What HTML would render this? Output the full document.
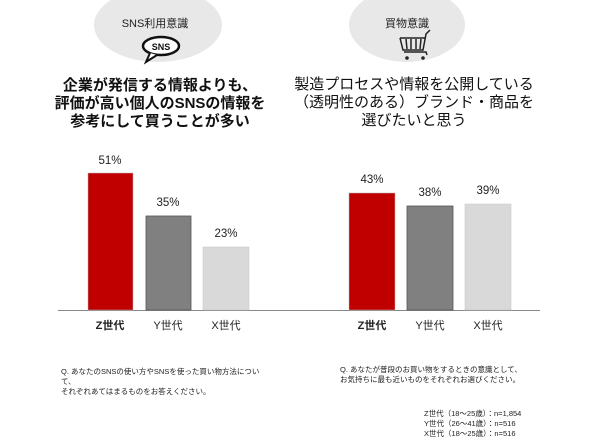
<!DOCTYPE html>
<html><head><meta charset="utf-8"><style>
body{margin:0;background:#fff;}
svg text{font-family:"Liberation Sans","Noto Sans CJK JP",sans-serif;}
</style></head><body>
<svg width="600" height="440" viewBox="0 0 600 440" xmlns="http://www.w3.org/2000/svg">
<ellipse cx="158" cy="25" rx="64" ry="37" fill="#e8e8e8"/>
<ellipse cx="407" cy="25" rx="58" ry="37" fill="#e8e8e8"/>
<text x="155" y="27" font-size="11" text-anchor="middle" fill="#222">SNS利用意識</text>
<text x="407" y="27" font-size="11" text-anchor="middle" fill="#222">買物意識</text>
<ellipse cx="161" cy="46" rx="18" ry="9" fill="#fff" stroke="#111" stroke-width="2.5"/>
<path d="M150,53 L146,62 L157,55" fill="#fff" stroke="#111" stroke-width="2"/>
<text x="161" y="50" font-size="9" font-weight="bold" text-anchor="middle" fill="#111">SNS</text>
<g stroke="#222" stroke-width="1.5" fill="none">
<path d="M400,38 L403,50 L423,50 L426,34 L430,30"/>
<path d="M404,52 L426,52 L427,55"/>
<line x1="406" y1="39" x2="407" y2="49"/><line x1="411" y1="39" x2="411" y2="49"/><line x1="416" y1="39" x2="416" y2="49"/><line x1="421" y1="39" x2="420" y2="49"/>
<line x1="400" y1="38" x2="426" y2="38"/>
</g>
<circle cx="407" cy="58" r="1.8" fill="#222"/><circle cx="423" cy="58" r="1.8" fill="#222"/>
<g font-size="15" font-weight="bold" text-anchor="middle" fill="#111">
<text x="160" y="90">企業が発信する情報よりも、</text>
<text x="160" y="108">評価が高い個人のSNSの情報を</text>
<text x="160" y="126">参考にして買うことが多い</text>
</g>
<g font-size="15" text-anchor="middle" fill="#111">
<text x="414" y="89">製造プロセスや情報を公開している</text>
<text x="414" y="107">（透明性のある）ブランド・商品を</text>
<text x="414" y="125">選びたいと思う</text>
</g>
<line x1="58" y1="310.5" x2="540" y2="310.5" stroke="#888" stroke-width="1"/>
<rect x="88" y="173" width="45" height="137" fill="#c00000" stroke="#b7b7b7" stroke-width="0.5"/>
<rect x="146" y="216" width="45" height="94" fill="#808080" stroke="#555" stroke-width="0.8"/>
<rect x="203" y="247" width="46" height="63" fill="#d9d9d9" stroke="#c4c4c4" stroke-width="0.5"/>
<rect x="349" y="193" width="46" height="117" fill="#c00000" stroke="#b7b7b7" stroke-width="0.5"/>
<rect x="407" y="206" width="46" height="104" fill="#808080" stroke="#555" stroke-width="0.8"/>
<rect x="465" y="204" width="46" height="106" fill="#d9d9d9" stroke="#c4c4c4" stroke-width="0.5"/>
<g font-size="11.5" text-anchor="middle" fill="#222">
<text x="110" y="164">51%</text>
<text x="168" y="206">35%</text>
<text x="226" y="237">23%</text>
<text x="372" y="183">43%</text>
<text x="430" y="196">38%</text>
<text x="488" y="194">39%</text>
</g>
<g font-size="11" text-anchor="middle" fill="#222">
<text x="110" y="329" font-weight="bold">Z世代</text>
<text x="168" y="329">Y世代</text>
<text x="226" y="329">X世代</text>
<text x="372" y="329" font-weight="bold">Z世代</text>
<text x="430" y="329">Y世代</text>
<text x="488" y="329">X世代</text>
</g>
<g font-size="7.5" fill="#222">
<text x="61" y="374">Q. あなたのSNSの使い方やSNSを使った買い物方法につい</text>
<text x="61" y="384">て、</text>
<text x="61" y="394">それぞれあてはまるものをお答えください。</text>
<text x="340" y="372">Q. あなたが普段のお買い物をするときの意識として、</text>
<text x="340" y="382">お気持ちに最も近いものをそれぞれお選びください。</text>
<text x="424" y="416">Z世代（18～25歳）：n=1,854</text>
<text x="424" y="426">Y世代（26～41歳）：n=516</text>
<text x="424" y="436">X世代（18～25歳）：n=516</text>
</g>
</svg>
</body></html>
